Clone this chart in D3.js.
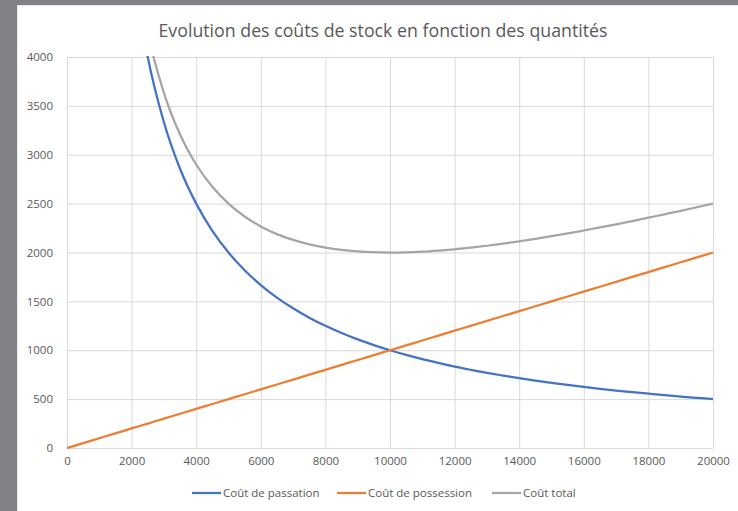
<!DOCTYPE html>
<html><head><meta charset="utf-8">
<script src="https://cdn.jsdelivr.net/npm/d3@7"></script>
<style>body{margin:0;padding:0;overflow:hidden;} svg{display:block;}</style>
</head><body>
<script>
const quantities = [0,500,1000,1500,2000,2500,3000,3500,4000,4500,5000,5500,6000,6500,7000,7500,8000,8500,9000,9500,10000,10500,11000,11500,12000,12500,13000,13500,14000,14500,15000,15500,16000,16500,17000,17500,18000,18500,19000,19500,20000];
const coutPassation = [null,20000,10000,6667,5000,4000,3333,2857,2500,2222,2000,1818,1667,1538,1429,1333,1250,1176,1111,1053,1000,952,909,870,833,800,769,741,714,690,667,645,625,606,588,571,556,541,526,513,500];
const coutPossession = [0,50,100,150,200,250,300,350,400,450,500,550,600,650,700,750,800,850,900,950,1000,1050,1100,1150,1200,1250,1300,1350,1400,1450,1500,1550,1600,1650,1700,1750,1800,1850,1900,1950,2000];
const coutTotal = [null,20050,10100,6817,5200,4250,3633,3207,2900,2672,2500,2368,2267,2188,2129,2083,2050,2026,2011,2003,2000,2002,2009,2020,2033,2050,2069,2091,2114,2140,2167,2195,2225,2256,2288,2321,2356,2391,2426,2463,2500];
const seriesNames = ["Coût de passation","Coût de possession","Coût total"];
const seriesColors = ["#4472C4","#ED7D31","#A5A5A5"];
const xTicks = [0,2000,4000,6000,8000,10000,12000,14000,16000,18000,20000];
const yTicks = [0,500,1000,1500,2000,2500,3000,3500,4000];
const chartTitle = "Evolution des coûts de stock en fonction des quantités";

(function(){
const W = 738, H = 511;
const svg = d3.select("body").append("svg").attr("width", W).attr("height", H);
svg.append("rect").attr("width", W).attr("height", H).attr("fill", "#808286");
svg.append("rect").attr("x", 17).attr("y", 5).attr("width", W-17).attr("height", H-5).attr("fill", "#e6e6e6");
svg.append("rect").attr("x", 18).attr("y", 6).attr("width", W-18).attr("height", H-6).attr("fill", "#ffffff");

const pl = 67, pr = 713, pt = 57, pb = 448;
const x = d3.scaleLinear().domain([0,20000]).range([pl,pr]);
const y = d3.scaleLinear().domain([0,4000]).range([pb,pt]);

const font = "'Open Sans', 'Liberation Sans', sans-serif";

svg.append("text").attr("x", 383).attr("y", 37).attr("text-anchor","middle")
  .attr("font-family", "'Liberation Sans Narrow','Open Sans',sans-serif").attr("font-size", 19)
  .attr("fill", "#595959").attr("textLength", 449).attr("lengthAdjust","spacingAndGlyphs").text(chartTitle);

const g = svg.append("g");
g.selectAll("line.h").data(yTicks).join("line").attr("x1", pl).attr("x2", pr)
  .attr("y1", d=>y(d)+0.5).attr("y2", d=>y(d)+0.5).attr("stroke", "#d9d9d9").attr("stroke-width",1);
g.selectAll("line.v").data(xTicks).join("line").attr("y1", pt).attr("y2", pb)
  .attr("x1", d=>x(d)+0.5).attr("x2", d=>x(d)+0.5).attr("stroke", "#d9d9d9").attr("stroke-width",1);

const yAxis = d3.axisLeft(y).tickValues(yTicks).tickSize(0).tickPadding(14).tickFormat(d3.format("d"));
const ya = svg.append("g").attr("transform", `translate(${pl},0)`).call(yAxis);
ya.select(".domain").remove();
ya.selectAll("text").attr("font-family", font).attr("font-size", 11.5).attr("fill", "#595959");

const xAxis = d3.axisBottom(x).tickValues(xTicks).tickSize(0).tickPadding(9).tickFormat(d3.format("d"));
const xa = svg.append("g").attr("transform", `translate(0,${pb})`).call(xAxis);
xa.select(".domain").remove();
xa.selectAll("text").attr("font-family", font).attr("font-size", 11.5).attr("fill", "#595959");

svg.append("clipPath").attr("id","clip").append("rect").attr("x", pl).attr("y", pt-1).attr("width", pr-pl+2).attr("height", pb-pt+2);

const allSeries = [coutPassation, coutPossession, coutTotal];
const line = d3.line().defined(d=>d[1]!==null).x(d=>x(d[0])).y(d=>y(d[1])).curve(d3.curveMonotoneX);
const lg = svg.append("g").attr("clip-path","url(#clip)");
allSeries.forEach((s,i)=>{
  const pts = quantities.map((q,j)=>[q, s[j]]);
  lg.append("path").datum(pts).attr("d", line).attr("fill","none")
    .attr("stroke", seriesColors[i]).attr("stroke-width", 2.25).attr("stroke-linejoin","round");
});

const legX = [192, 337, 492];
seriesNames.forEach((n,i)=>{
  svg.append("line").attr("x1", legX[i]).attr("x2", legX[i]+29).attr("y1", 493).attr("y2", 493)
    .attr("stroke", seriesColors[i]).attr("stroke-width", 2.25);
  svg.append("text").attr("x", legX[i]+31).attr("y", 497).attr("font-family", font).attr("font-size", 11.5)
    .attr("fill", "#595959").text(n);
});
})();
</script>
</body></html>
